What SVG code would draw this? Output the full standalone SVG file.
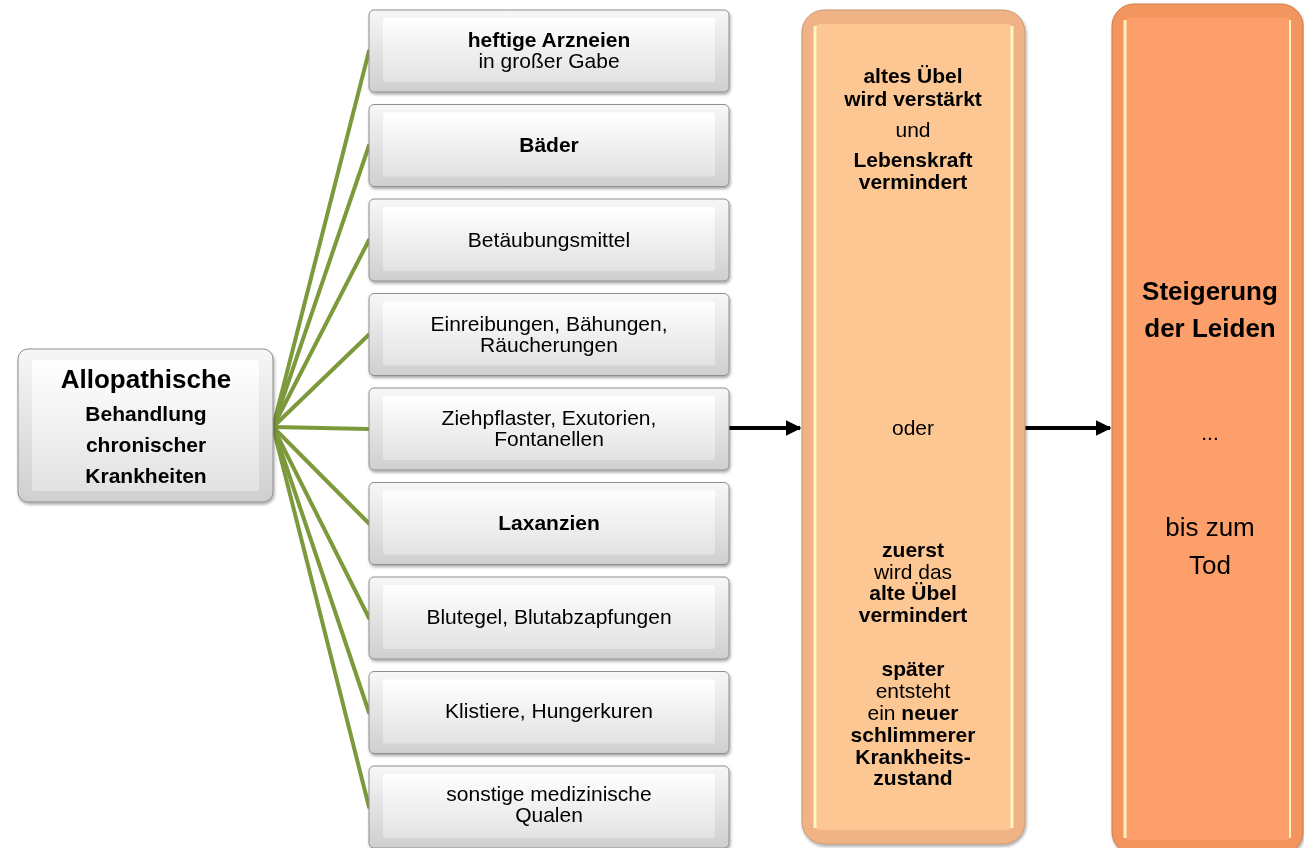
<svg xmlns="http://www.w3.org/2000/svg" width="1304" height="848" viewBox="0 0 1304 848">
<defs>
<linearGradient id="gOuter" x1="0" y1="0" x2="0" y2="1">
<stop offset="0" stop-color="#f7f7f7"/><stop offset="1" stop-color="#cfcfcf"/>
</linearGradient>
<linearGradient id="gInner" x1="0" y1="0" x2="0" y2="1">
<stop offset="0" stop-color="#ffffff"/><stop offset="1" stop-color="#e2e2e2"/>
</linearGradient>
<filter id="sh" x="-10%" y="-10%" width="120%" height="130%">
<feDropShadow dx="1" dy="2" stdDeviation="1.5" flood-color="#000" flood-opacity="0.35"/>
</filter>
<marker id="ah" viewBox="0 0 10 10" refX="9" refY="5" markerWidth="4" markerHeight="4" orient="auto" markerUnits="strokeWidth">
<path d="M0,0 L10,5 L0,10 z" fill="#000"/>
</marker>
<style>
.bo{fill:url(#gOuter);stroke:#8e8e8e;stroke-width:1}
.bi{fill:url(#gInner);stroke:none}
.t{font-family:"Liberation Sans",Arial,sans-serif;font-size:21px;fill:#000;text-anchor:middle}
.b{font-weight:bold}
.o{font-family:"Liberation Sans",Arial,sans-serif;font-size:21px;fill:#000;text-anchor:middle}
.big{font-family:"Liberation Sans",Arial,sans-serif;font-size:26px;fill:#000;text-anchor:middle}
.gl{stroke:#7c9a3c;stroke-width:4;fill:none;stroke-linecap:round}
.ar{stroke:#000;stroke-width:4;fill:none}
</style>
</defs>

<g id="connectors">
<line class="gl" x1="273" y1="427" x2="369" y2="51"/>
<line class="gl" x1="273" y1="427" x2="369" y2="145.5"/>
<line class="gl" x1="273" y1="427" x2="369" y2="240"/>
<line class="gl" x1="273" y1="427" x2="369" y2="334.5"/>
<line class="gl" x1="273" y1="427" x2="369" y2="429"/>
<line class="gl" x1="273" y1="427" x2="369" y2="523.5"/>
<line class="gl" x1="273" y1="427" x2="369" y2="618"/>
<line class="gl" x1="273" y1="427" x2="369" y2="712.5"/>
<line class="gl" x1="273" y1="427" x2="369" y2="807"/>
<line class="ar" x1="729" y1="428" x2="800" y2="428" marker-end="url(#ah)"/>
<line class="ar" x1="1025" y1="428" x2="1110" y2="428" marker-end="url(#ah)"/>
</g>

<g id="node-allopathische" filter="url(#sh)">
<rect class="bo" x="18" y="349" width="255" height="153" rx="10"/>
<rect class="bi" x="32" y="360" width="227" height="131" rx="3"/>
<text class="big b" x="146" y="388">Allopathische</text>
<text class="t b" x="146" y="421">Behandlung</text>
<text class="t b" x="146" y="452">chronischer</text>
<text class="t b" x="146" y="483">Krankheiten</text>
</g>

<g id="node-1" filter="url(#sh)">
<rect class="bo" x="369" y="10" width="360" height="82" rx="5"/>
<rect class="bi" x="383" y="18" width="332" height="64" rx="2"/>
<text class="t b" x="549" y="47">heftige Arzneien</text>
<text class="t" x="549" y="68">in großer Gabe</text>
</g>
<g id="node-2" filter="url(#sh)">
<rect class="bo" x="369" y="104.5" width="360" height="82" rx="5"/>
<rect class="bi" x="383" y="112.5" width="332" height="64" rx="2"/>
<text class="t b" x="549" y="152">Bäder</text>
</g>
<g id="node-3" filter="url(#sh)">
<rect class="bo" x="369" y="199" width="360" height="82" rx="5"/>
<rect class="bi" x="383" y="207" width="332" height="64" rx="2"/>
<text class="t" x="549" y="247">Betäubungsmittel</text>
</g>
<g id="node-4" filter="url(#sh)">
<rect class="bo" x="369" y="293.5" width="360" height="82" rx="5"/>
<rect class="bi" x="383" y="301.5" width="332" height="64" rx="2"/>
<text class="t" x="549" y="331">Einreibungen, Bähungen,</text>
<text class="t" x="549" y="352">Räucherungen</text>
</g>
<g id="node-5" filter="url(#sh)">
<rect class="bo" x="369" y="388" width="360" height="82" rx="5"/>
<rect class="bi" x="383" y="396" width="332" height="64" rx="2"/>
<text class="t" x="549" y="425">Ziehpflaster, Exutorien,</text>
<text class="t" x="549" y="446">Fontanellen</text>
</g>
<g id="node-6" filter="url(#sh)">
<rect class="bo" x="369" y="482.5" width="360" height="82" rx="5"/>
<rect class="bi" x="383" y="490.5" width="332" height="64" rx="2"/>
<text class="t b" x="549" y="530">Laxanzien</text>
</g>
<g id="node-7" filter="url(#sh)">
<rect class="bo" x="369" y="577" width="360" height="82" rx="5"/>
<rect class="bi" x="383" y="585" width="332" height="64" rx="2"/>
<text class="t" x="549" y="624">Blutegel, Blutabzapfungen</text>
</g>
<g id="node-8" filter="url(#sh)">
<rect class="bo" x="369" y="671.5" width="360" height="82" rx="5"/>
<rect class="bi" x="383" y="679.5" width="332" height="64" rx="2"/>
<text class="t" x="549" y="718">Klistiere, Hungerkuren</text>
</g>
<g id="node-9" filter="url(#sh)">
<rect class="bo" x="369" y="766" width="360" height="82" rx="5"/>
<rect class="bi" x="383" y="774" width="332" height="64" rx="2"/>
<text class="t" x="549" y="801">sonstige medizinische</text>
<text class="t" x="549" y="822">Qualen</text>
</g>

<g id="node-folgen" filter="url(#sh)">
<rect x="802" y="10" width="223" height="834" rx="22" fill="#efb386" stroke="#c89a74" stroke-width="1"/>
<rect x="814" y="24" width="199" height="806" rx="6" fill="#fdc794"/>
<line x1="815" y1="26" x2="815" y2="828" stroke="#fff6c8" stroke-width="3"/>
<line x1="1012" y1="26" x2="1012" y2="828" stroke="#fff6c8" stroke-width="3"/>
<text class="o b" x="913" y="83">altes Übel</text>
<text class="o b" x="913" y="106">wird verstärkt</text>
<text class="o" x="913" y="137">und</text>
<text class="o b" x="913" y="167">Lebenskraft</text>
<text class="o b" x="913" y="189">vermindert</text>
<text class="o" x="913" y="435">oder</text>
<text class="o b" x="913" y="557">zuerst</text>
<text class="o" x="913" y="579">wird das</text>
<text class="o b" x="913" y="600">alte Übel</text>
<text class="o b" x="913" y="622">vermindert</text>
<text class="o b" x="913" y="676">später</text>
<text class="o" x="913" y="698">entsteht</text>
<text class="o" x="913" y="720">ein <tspan class="b">neuer</tspan></text>
<text class="o b" x="913" y="742">schlimmerer</text>
<text class="o b" x="913" y="764">Krankheits-</text>
<text class="o b" x="913" y="785">zustand</text>
</g>

<g id="node-steigerung" filter="url(#sh)">
<rect x="1112" y="4" width="191" height="850" rx="22" fill="#f2955f" stroke="#d27a4a" stroke-width="1"/>
<rect x="1124" y="18" width="167" height="822" rx="6" fill="#fd9f6a"/>
<line x1="1125" y1="20" x2="1125" y2="838" stroke="#fff2c0" stroke-width="3"/>
<line x1="1290" y1="20" x2="1290" y2="838" stroke="#fff2c0" stroke-width="2"/>
<text class="big b" x="1210" y="300">Steigerung</text>
<text class="big b" x="1210" y="337">der Leiden</text>
<text class="o" x="1210" y="440">...</text>
<text class="big" x="1210" y="536">bis zum</text>
<text class="big" x="1210" y="574">Tod</text>
</g>
</svg>
